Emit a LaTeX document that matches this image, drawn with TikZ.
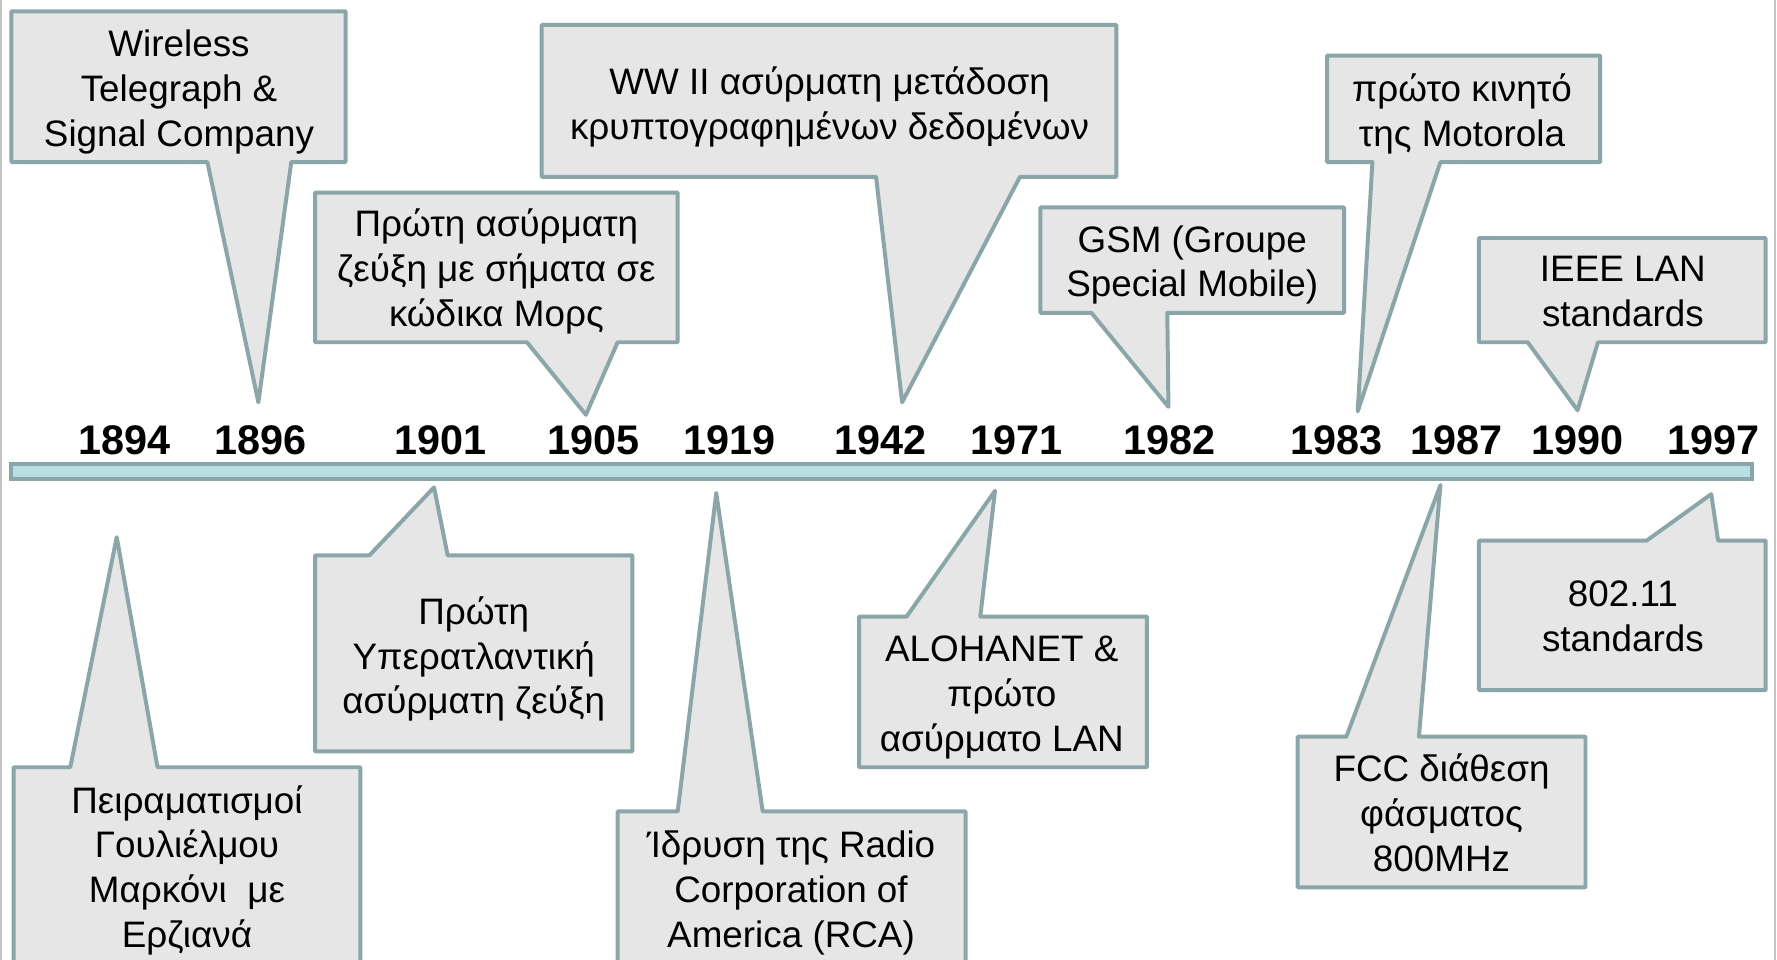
\documentclass[tikz,border=0pt]{standalone}
\usepackage{fontspec}
\setmainfont{Liberation Sans}
\definecolor{edge}{HTML}{8BA6A9}
\definecolor{boxfill}{HTML}{E6E6E6}
\definecolor{barfill}{HTML}{B8DFE2}
\definecolor{frameline}{HTML}{C4C4C4}
\begin{document}
\begin{tikzpicture}[x=1pt,y=-1pt,
  callout/.style={draw=edge,fill=boxfill,line width=3.5pt,line join=round},
  txt/.style={align=center,font=\fontsize{32.5}{39.5}\selectfont,inner sep=0pt,anchor=base},
  year/.style={font=\fontsize{36.5}{40}\selectfont\bfseries,inner sep=0pt,anchor=base},
  bar/.style={draw=edge,fill=barfill,line width=3.5pt}]
\useasboundingbox (0,0) rectangle (1568,847);
\clip (0,0) rectangle (1568,847);
\fill[white] (0,0) rectangle (1568,847);
\draw[frameline,line width=2pt] (1,0) -- (1,847);
\draw[frameline,line width=2pt] (1566,0) -- (1566,847);

% timeline bar
\draw[bar] (10,409) rectangle (1546,423);

% years
\node[year] (y1894) at (110,401) {1894};
\node[year] (y1896) at (230,401) {1896};
\node[year] (y1901) at (389,401) {1901};
\node[year] (y1905) at (524,401) {1905};
\node[year] (y1919) at (644,401) {1919};
\node[year] (y1942) at (777,401) {1942};
\node[year] (y1971) at (897,401) {1971};
\node[year] (y1982) at (1032,401) {1982};
\node[year] (y1983) at (1179,401) {1983};
\node[year] (y1987) at (1285,401) {1987};
\node[year] (y1990) at (1392,401) {1990};
\node[year] (y1997) at (1512,401) {1997};

% ---- top callouts (tail on bottom edge); text placed at baseline of last line
\draw[callout] (10,10) -- (305,10) -- (305,143) -- (257,143) -- (228,355) -- (183,143) -- (10,143) -- cycle;
\node[txt] (c1896) at (158,129) {Wireless\\Telegraph \&\\Signal Company};

\draw[callout] (278,170) -- (598,170) -- (598,302) -- (545,302) -- (517,366) -- (465,302) -- (278,302) -- cycle;
\node[txt] (c1905) at (438,288) {Πρώτη ασύρματη\\ζεύξη με σήματα σε\\κώδικα Μορς};

\draw[callout] (478,22) -- (985,22) -- (985,156) -- (900,156) -- (796,355) -- (773,156) -- (478,156) -- cycle;
\node[txt] (c1942) at (732,123) {WW II ασύρματη μετάδοση\\κρυπτογραφημένων δεδομένων};

\draw[callout] (918,183) -- (1186,183) -- (1186,276) -- (1030,276) -- (1031,359) -- (963,276) -- (918,276) -- cycle;
\node[txt] (c1982) at (1052,262) {GSM (Groupe\\Special Mobile)};

\draw[callout] (1171,49) -- (1412,49) -- (1412,143) -- (1271,143) -- (1198,363) -- (1211,143) -- (1171,143) -- cycle;
\node[txt] (c1983) at (1290,129) {πρώτο κινητό\\της Motorola};

\draw[callout] (1305,210) -- (1558,210) -- (1558,302) -- (1410,302) -- (1392,362) -- (1348,302) -- (1305,302) -- cycle;
\node[txt] (c1990) at (1432,288) {IEEE LAN\\standards};

% ---- bottom callouts (tail on top edge)
\draw[callout] (12,677) -- (62,677) -- (103,474) -- (139,677) -- (318,677) -- (318,900) -- (12,900) -- cycle;
\node[txt] (c1894) at (165,836) {Πειραματισμοί\\Γουλιέλμου\\Μαρκόνι~ με\\Ερζιανά};

\draw[callout] (278,490) -- (326,490) -- (383,430) -- (395,490) -- (558,490) -- (558,663) -- (278,663) -- cycle;
\node[txt] (c1901) at (418,630) {Πρώτη\\Υπερατλαντική\\ασύρματη ζεύξη};

\draw[callout] (545,716) -- (598,716) -- (632,435) -- (673,716) -- (852,716) -- (852,900) -- (545,900) -- cycle;
\node[txt] (c1919) at (698,836) {Ίδρυση της Radio\\Corporation of\\America (RCA)};

\draw[callout] (758,544) -- (800,544) -- (878,433) -- (865,544) -- (1012,544) -- (1012,677) -- (758,677) -- cycle;
\node[txt] (c1971) at (884,663) {ALOHANET \&\\πρώτο\\ασύρματο LAN};

\draw[callout] (1145,650) -- (1188,650) -- (1271,428) -- (1252,650) -- (1399,650) -- (1399,783) -- (1145,783) -- cycle;
\node[txt] (c1987) at (1272,769) {FCC διάθεση\\φάσματος\\800MHz};

\draw[callout] (1305,477) -- (1453,477) -- (1510,436) -- (1516,477) -- (1558,477) -- (1558,609) -- (1305,609) -- cycle;
\node[txt] (c1997) at (1432,575) {802.11\\standards};
\end{tikzpicture}
\end{document}
